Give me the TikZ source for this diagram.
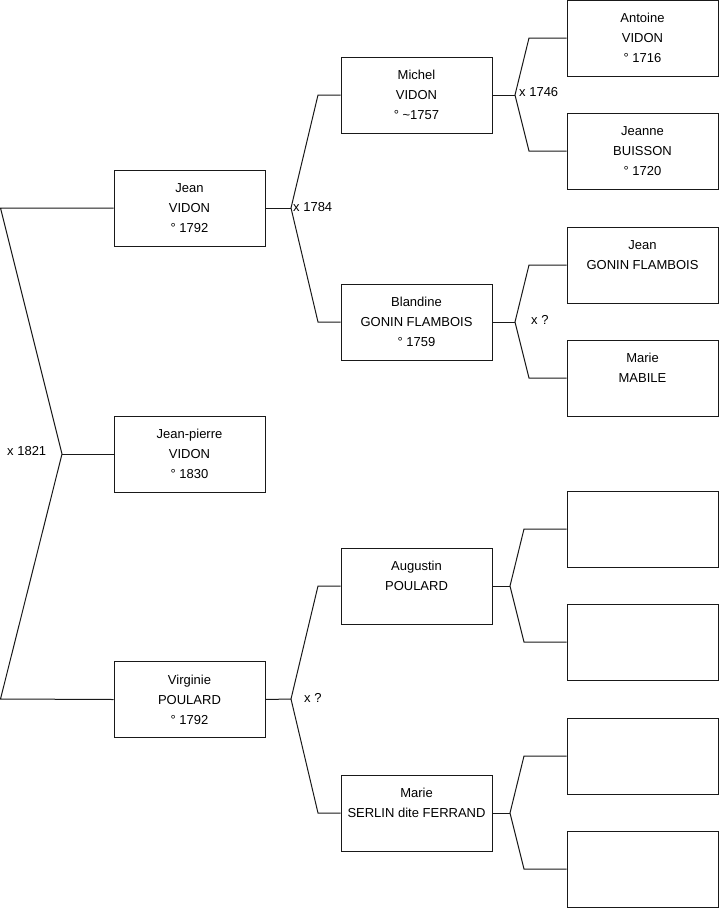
\documentclass[tikz,border=0pt]{standalone}
\usepackage{fontspec}
\setmainfont{Liberation Sans}
\begin{document}
\begin{tikzpicture}[x=1pt,y=-1pt,
  person/.style={draw=black!90,line width=1pt,rectangle,minimum width=151pt,minimum height=76pt,
    inner sep=0pt,align=center,font=\fontsize{13}{20}\selectfont},
  link/.style={draw=black!90,line width=1pt},
  lab/.style={font=\fontsize{13}{14}\selectfont,inner sep=0pt}]
\useasboundingbox (0,0) rectangle (719,908);
% column 1
\node[person] (jean) at (189.5,208) {Jean\\VIDON\\° 1792};
\node[person] (jp) at (189.5,454) {Jean-pierre\\VIDON\\° 1830};
\node[person] (virg) at (189.5,699.5) {Virginie\\POULARD\\° 1792};
% column 2
\node[person] (michel) at (416.5,95) {Michel\\VIDON\\° \textasciitilde 1757};
\node[person] (bland) at (416.5,322) {Blandine\\GONIN FLAMBOIS\\° 1759};
\node[person] (aug) at (416.5,586) {Augustin\\POULARD\\\phantom{A}};
\node[person] (marie) at (416.5,813) {Marie\\SERLIN dite FERRAND\\\phantom{A}};
% column 3
\node[person] (ant) at (642.5,38) {Antoine\\VIDON\\° 1716};
\node[person] (jeanne) at (642.5,151) {Jeanne\\BUISSON\\° 1720};
\node[person] (jgf) at (642.5,265) {Jean\\GONIN FLAMBOIS\\\phantom{A}};
\node[person] (mab) at (642.5,378) {Marie\\MABILE\\\phantom{A}};
\node[person] (e1) at (642.5,529) {};
\node[person] (e2) at (642.5,642) {};
\node[person] (e3) at (642.5,756) {};
\node[person] (e4) at (642.5,869) {};
% fork points
\coordinate (l1) at (0.5,208);
\coordinate (l2) at (0.5,699);
\coordinate (f0) at (62,454);
\coordinate (f1) at (291,208);
\coordinate (f1a) at (318,95);
\coordinate (f1b) at (318,322);
\coordinate (f2) at (515,95);
\coordinate (f2a) at (529,38);
\coordinate (f2b) at (529,151);
\coordinate (f3) at (515,322);
\coordinate (f3a) at (529,265);
\coordinate (f3b) at (529,378);
\coordinate (f4) at (291,699);
\coordinate (f4a) at (318,586);
\coordinate (f4b) at (318,813);
\coordinate (f5) at (510,586);
\coordinate (f5a) at (524,529);
\coordinate (f5b) at (524,642);
\coordinate (f6) at (510,813);
\coordinate (f6a) at (524,756);
\coordinate (f6b) at (524,869);
% connectors
\draw[link] (jean.west) -- (l1) -- (f0) -- (l2) -- (virg.west);
\draw[link] (f0) -- (jp.west);
\draw[link] (jean.east) -- (f1);
\draw[link] (michel.west) -- (f1a) -- (f1) -- (f1b) -- (bland.west);
\draw[link] (michel.east) -- (f2);
\draw[link] (ant.west) -- (f2a) -- (f2) -- (f2b) -- (jeanne.west);
\draw[link] (bland.east) -- (f3);
\draw[link] (jgf.west) -- (f3a) -- (f3) -- (f3b) -- (mab.west);
\draw[link] (virg.east) -- (f4);
\draw[link] (aug.west) -- (f4a) -- (f4) -- (f4b) -- (marie.west);
\draw[link] (aug.east) -- (f5);
\draw[link] (e1.west) -- (f5a) -- (f5) -- (f5b) -- (e2.west);
\draw[link] (marie.east) -- (f6);
\draw[link] (e3.west) -- (f6a) -- (f6) -- (f6b) -- (e4.west);
% labels
\node[lab,anchor=west] (m0) at (7,451) {x 1821};
\node[lab,anchor=west] (m1) at (293,207) {x 1784};
\node[lab,anchor=west] (m2) at (519,92) {x 1746};
\node[lab,anchor=west] (m3) at (531,320) {x ?};
\node[lab,anchor=west] (m4) at (304,698) {x ?};
\end{tikzpicture}
\end{document}
